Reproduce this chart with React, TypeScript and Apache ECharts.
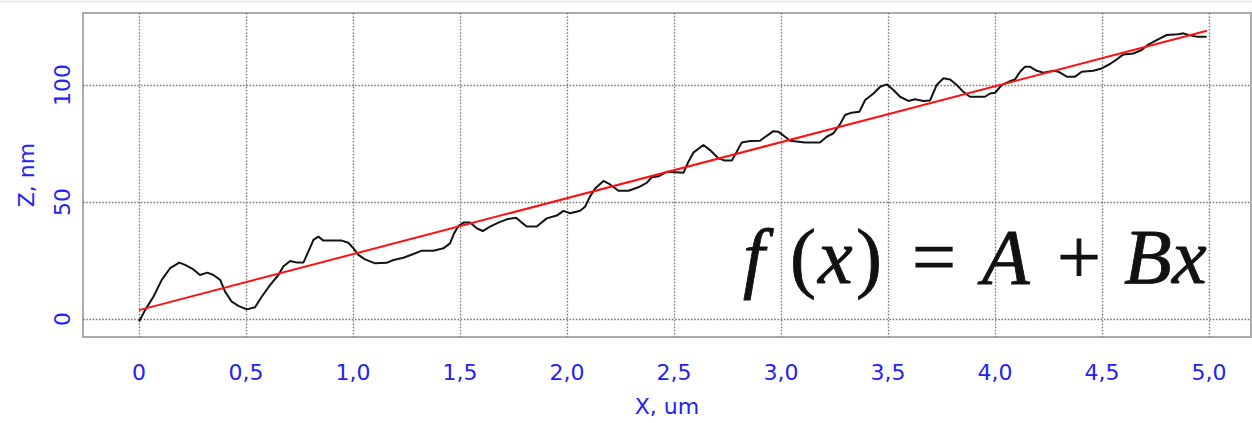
import React, { useEffect, useRef } from "react";
import * as echarts from "echarts";

// Tick values
const xTicks = [0, 0.5, 1, 1.5, 2, 2.5, 3, 3.5, 4, 4.5, 5];
const yTicks = [0, 50, 100];

// Measured profile (X in um, Z in nm)
const profileX = [
  0.0, 0.028, 0.067, 0.106, 0.145, 0.188, 0.215, 0.254, 0.285, 0.319, 0.347, 0.379, 0.402, 0.433, 0.464,
  0.503, 0.542, 0.573, 0.612, 0.651, 0.674, 0.706, 0.737, 0.768, 0.791, 0.815, 0.838, 0.861, 0.908, 0.947,
  0.978, 1.002, 1.025, 1.056, 1.103, 1.157, 1.189, 1.235, 1.282, 1.321, 1.375, 1.422, 1.453, 1.472, 1.492,
  1.516, 1.547, 1.578, 1.606, 1.64, 1.679, 1.718, 1.762, 1.788, 1.812, 1.858, 1.905, 1.952, 1.983, 2.014,
  2.061, 2.084, 2.107, 2.131, 2.17, 2.201, 2.24, 2.287, 2.333, 2.372, 2.396, 2.427, 2.466, 2.544, 2.567,
  2.59, 2.637, 2.668, 2.707, 2.738, 2.77, 2.793, 2.816, 2.855, 2.902, 2.933, 2.964, 2.988, 3.019, 3.042,
  3.112, 3.182, 3.213, 3.245, 3.276, 3.299, 3.33, 3.366, 3.393, 3.432, 3.463, 3.494, 3.525, 3.556, 3.595,
  3.626, 3.665, 3.696, 3.727, 3.759, 3.79, 3.821, 3.852, 3.883, 3.953, 3.977, 4.0, 4.031, 4.07, 4.093,
  4.117, 4.14, 4.164, 4.195, 4.226, 4.272, 4.296, 4.335, 4.374, 4.405, 4.459, 4.498, 4.537, 4.569, 4.6,
  4.646, 4.685, 4.716, 4.755, 4.802, 4.857, 4.88, 4.904, 4.942, 4.989,
];
const profileZ = [
  -1.1, 3.8, 9.5, 16.7, 21.7, 24.1, 23.1, 21.2, 18.8, 19.8, 18.8, 16.7, 11.7, 7.4, 5.6,
  4.1, 5.0, 9.5, 14.5, 18.8, 22.4, 24.8, 24.1, 24.1, 28.8, 33.8, 35.2, 33.5, 33.5, 33.5,
  32.6, 30.2, 27.4, 25.5, 23.8, 24.0, 25.2, 26.2, 27.8, 29.2, 29.2, 30.2, 32.3, 36.6, 39.7,
  41.2, 41.2, 38.8, 37.6, 39.5, 41.2, 42.6, 43.3, 41.2, 39.5, 39.5, 43.0, 44.2, 46.2, 45.2,
  46.3, 48.0, 52.3, 55.8, 59.0, 57.5, 54.8, 54.8, 56.3, 58.2, 60.6, 61.0, 62.9, 62.5, 67.2,
  71.1, 74.4, 72.2, 68.7, 67.7, 67.7, 71.5, 75.4, 76.1, 76.2, 78.3, 80.3, 80.0, 77.9, 76.2,
  75.4, 75.4, 77.9, 79.4, 83.3, 87.2, 88.2, 88.6, 93.6, 96.4, 99.3, 100.3, 97.9, 95.0, 93.2,
  93.9, 93.2, 93.4, 100.0, 102.9, 102.4, 100.0, 97.1, 95.0, 95.0, 96.4, 96.7, 100.0, 101.7, 102.4,
  105.7, 107.8, 107.8, 106.1, 105.3, 106.1, 105.7, 103.6, 103.6, 105.7, 106.1, 107.1, 109.0, 111.0, 113.1,
  113.5, 115.0, 117.3, 119.2, 121.4, 121.7, 122.1, 121.4, 120.7, 120.7,
];

// Linear fit f(x) = A + Bx, endpoints
const fitX = [0, 4.99];
const fitZ = [3.8, 123.2];

const BLUE = "#2323f5";
const LABEL_FONT = "DejaVu Sans";

const formula: { t: string; x: number; it: boolean }[] = [
  { t: "f", x: 743, it: true },
  { t: "(", x: 790, it: false },
  { t: "x", x: 818, it: true },
  { t: ")", x: 856, it: false },
  { t: "=", x: 912, it: false },
  { t: "A", x: 982, it: true },
  { t: "+", x: 1057, it: false },
  { t: "B", x: 1124, it: true },
  { t: "x", x: 1172, it: true },
];

export default function App() {
  const ref = useRef<HTMLDivElement>(null);
  useEffect(() => {
    if (!ref.current) return;
    const chart = echarts.init(ref.current, undefined, { renderer: "svg" });
    const fmtX = (v: number) => (v === 0 ? "0" : v.toFixed(1).replace(".", ","));
    const gridLine = { show: true, lineStyle: { color: "#7a7a7a", width: 1.3, type: [1.6, 1.6] } };
    chart.setOption({
      animation: false,
      backgroundColor: "#ffffff",
      grid: {
        left: 83,
        top: 13,
        right: 1,
        bottom: 86,
        show: true,
        borderColor: "#ababab",
        borderWidth: 2,
        backgroundColor: "#ffffff",
      },
      xAxis: {
        type: "value",
        min: -0.262,
        max: 5.196,
        name: "X, um",
        nameLocation: "middle",
        nameGap: 58,
        nameTextStyle: { color: BLUE, fontSize: 22, fontFamily: LABEL_FONT },
        axisLine: { show: false },
        axisTick: { show: false, customValues: xTicks },
        axisLabel: {
          customValues: xTicks,
          formatter: fmtX,
          color: BLUE,
          fontSize: 22,
          fontFamily: LABEL_FONT,
          margin: 24,
        },
        splitLine: gridLine,
      },
      yAxis: {
        type: "value",
        min: -7.7,
        max: 130.8,
        name: "Z, nm",
        nameLocation: "middle",
        nameGap: 46,
        nameTextStyle: { color: BLUE, fontSize: 22, fontFamily: LABEL_FONT },
        axisLine: { show: false },
        axisTick: { show: false, customValues: yTicks },
        axisLabel: {
          customValues: yTicks,
          rotate: 90,
          color: BLUE,
          fontSize: 22,
          fontFamily: LABEL_FONT,
          margin: 10,
        },
        splitLine: gridLine,
      },
      series: [
        {
          type: "line",
          data: profileX.map((x, i) => [x, profileZ[i]]),
          showSymbol: false,
          lineStyle: { color: "#141414", width: 2 },
          z: 3,
        },
        {
          type: "line",
          data: fitX.map((x, i) => [x, fitZ[i]]),
          showSymbol: false,
          lineStyle: { color: "#ff1010", width: 2 },
          z: 4,
        },
      ],
      graphic: [
        {
          type: "line",
          shape: { x1: 0, y1: 1.5, x2: 1252, y2: 1.5 },
          style: { stroke: "#ebebeb", lineWidth: 2 },
          silent: true,
        },
        ...formula.map((g) => ({
          type: "text",
          x: g.x,
          y: 256,
          z: 10,
          style: {
            text: g.t,
            fontSize: 78,
            fontFamily: "Liberation Serif",
            fontStyle: g.it ? "italic" : "normal",
            fill: "#111111",
            stroke: "#111111",
            lineWidth: 0.8,
            align: "left",
            verticalAlign: "middle",
          },
        })),
      ],
    });
    return () => chart.dispose();
  }, []);
  return (
    <div
      ref={ref}
      style={{ position: "fixed", left: 0, top: 0, width: 1252, height: 423, background: "#fff" }}
    />
  );
}
